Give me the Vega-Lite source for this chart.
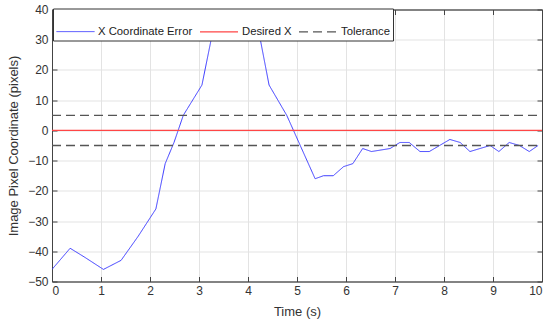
{
  "$schema": "https://vega.github.io/schema/vega-lite/v6.json",
  "autosize": "none",
  "width": 490,
  "height": 272,
  "padding": {"left": 52, "top": 9.5, "right": 5, "bottom": 40.5},
  "background": "white",
  "config": {
    "font": "Liberation Sans",
    "view": {"stroke": "#444", "strokeWidth": 1},
    "axis": {
      "labelFont": "Liberation Sans",
      "titleFont": "Liberation Sans",
      "labelFontSize": 12,
      "titleFontSize": 13,
      "titleFontWeight": "normal",
      "labelColor": "#333",
      "titleColor": "#333",
      "domainColor": "#444",
      "tickColor": "#444",
      "tickSize": -5,
      "gridColor": "#e3e3e3",
      "gridOpacity": 1
    }
  },
  "data": {
    "values": [
      {"series": "X Coordinate Error", "part": "e", "t": 0.0, "v": -46},
      {"series": "X Coordinate Error", "part": "e", "t": 0.37, "v": -39},
      {"series": "X Coordinate Error", "part": "e", "t": 0.67, "v": -42},
      {"series": "X Coordinate Error", "part": "e", "t": 1.05, "v": -46},
      {"series": "X Coordinate Error", "part": "e", "t": 1.41, "v": -43},
      {"series": "X Coordinate Error", "part": "e", "t": 1.76, "v": -35},
      {"series": "X Coordinate Error", "part": "e", "t": 2.12, "v": -26},
      {"series": "X Coordinate Error", "part": "e", "t": 2.31, "v": -11},
      {"series": "X Coordinate Error", "part": "e", "t": 2.49, "v": -4},
      {"series": "X Coordinate Error", "part": "e", "t": 2.68, "v": 5},
      {"series": "X Coordinate Error", "part": "e", "t": 3.06, "v": 15},
      {"series": "X Coordinate Error", "part": "e", "t": 3.26, "v": 31},
      {"series": "X Coordinate Error", "part": "e", "t": 3.38, "v": 35},
      {"series": "X Coordinate Error", "part": "e", "t": 3.57, "v": 39},
      {"series": "X Coordinate Error", "part": "e", "t": 3.77, "v": 40},
      {"series": "X Coordinate Error", "part": "e", "t": 3.96, "v": 39},
      {"series": "X Coordinate Error", "part": "e", "t": 4.14, "v": 35},
      {"series": "X Coordinate Error", "part": "e", "t": 4.24, "v": 31},
      {"series": "X Coordinate Error", "part": "e", "t": 4.43, "v": 15},
      {"series": "X Coordinate Error", "part": "e", "t": 4.79, "v": 5},
      {"series": "X Coordinate Error", "part": "e", "t": 5.37, "v": -16},
      {"series": "X Coordinate Error", "part": "e", "t": 5.54, "v": -15},
      {"series": "X Coordinate Error", "part": "e", "t": 5.74, "v": -15},
      {"series": "X Coordinate Error", "part": "e", "t": 5.95, "v": -12},
      {"series": "X Coordinate Error", "part": "e", "t": 6.14, "v": -11},
      {"series": "X Coordinate Error", "part": "e", "t": 6.34, "v": -6},
      {"series": "X Coordinate Error", "part": "e", "t": 6.52, "v": -7},
      {"series": "X Coordinate Error", "part": "e", "t": 6.9, "v": -6},
      {"series": "X Coordinate Error", "part": "e", "t": 7.1, "v": -4},
      {"series": "X Coordinate Error", "part": "e", "t": 7.29, "v": -4},
      {"series": "X Coordinate Error", "part": "e", "t": 7.51, "v": -7},
      {"series": "X Coordinate Error", "part": "e", "t": 7.7, "v": -7},
      {"series": "X Coordinate Error", "part": "e", "t": 8.12, "v": -3},
      {"series": "X Coordinate Error", "part": "e", "t": 8.33, "v": -4},
      {"series": "X Coordinate Error", "part": "e", "t": 8.53, "v": -7},
      {"series": "X Coordinate Error", "part": "e", "t": 8.94, "v": -5},
      {"series": "X Coordinate Error", "part": "e", "t": 9.12, "v": -7},
      {"series": "X Coordinate Error", "part": "e", "t": 9.33, "v": -4},
      {"series": "X Coordinate Error", "part": "e", "t": 9.54, "v": -5},
      {"series": "X Coordinate Error", "part": "e", "t": 9.74, "v": -7},
      {"series": "X Coordinate Error", "part": "e", "t": 9.92, "v": -5},
      {"series": "Desired X", "part": "d", "t": 0, "v": 0},
      {"series": "Desired X", "part": "d", "t": 10, "v": 0},
      {"series": "Tolerance", "part": "up", "t": 0, "v": 5},
      {"series": "Tolerance", "part": "up", "t": 10, "v": 5},
      {"series": "Tolerance", "part": "lo", "t": 0, "v": -5},
      {"series": "Tolerance", "part": "lo", "t": 10, "v": -5}
    ]
  },
  "layer": [
    {
      "mark": {"type": "line", "clip": true},
      "encoding": {
        "x": {
          "field": "t", "type": "quantitative",
          "scale": {"domain": [0, 10], "nice": false, "zero": false},
          "axis": {"title": "Time (s)", "values": [0,1,2,3,4,5,6,7,8,9,10], "grid": true, "labelPadding": 9, "titlePadding": 9}
        },
        "y": {
          "field": "v", "type": "quantitative",
          "scale": {"domain": [-50, 40], "nice": false, "zero": false},
          "axis": {"title": "Image Pixel Coordinate (pixels)", "values": [-50,-40,-30,-20,-10,0,10,20,30,40], "grid": true, "labelPadding": 9, "titlePadding": 7}
        },
        "detail": {"field": "part"},
        "color": {
          "field": "series", "type": "nominal",
          "scale": {"domain": ["X Coordinate Error", "Desired X", "Tolerance"], "range": ["#3a3aff", "#ff4646", "#555555"]},
          "legend": {
            "title": null, "orient": "none", "legendX": 1, "legendY": -1, "direction": "horizontal",
            "fillColor": "white", "strokeColor": "#333", "padding": 3, "cornerRadius": 0,
            "symbolType": "stroke", "symbolSize": 1444, "symbolStrokeWidth": 1.2,
            "labelFontSize": 11.3, "labelColor": "#222", "labelOffset": 3, "columnPadding": 4
          }
        },
        "strokeDash": {
          "field": "series", "type": "nominal",
          "scale": {"domain": ["X Coordinate Error", "Desired X", "Tolerance"], "range": [[1, 0], [1, 0], [9, 5]]},
          "legend": {
            "title": null, "orient": "none", "legendX": 1, "legendY": -1, "direction": "horizontal",
            "fillColor": "white", "strokeColor": "#333", "padding": 3, "cornerRadius": 0,
            "symbolType": "stroke", "symbolSize": 1444, "symbolStrokeWidth": 1.2,
            "labelFontSize": 11.3, "labelColor": "#222", "labelOffset": 3, "columnPadding": 4
          }
        },
        "strokeWidth": {
          "field": "series", "type": "nominal",
          "scale": {"domain": ["X Coordinate Error", "Desired X", "Tolerance"], "range": [1, 1.3, 1.5]},
          "legend": null
        }
      }
    },
    {
      "mark": {"type": "point", "opacity": 0},
      "encoding": {
        "x": {"field": "t", "type": "quantitative", "axis": {"orient": "top", "title": null, "labels": false, "grid": false, "values": [0,1,2,3,4,5,6,7,8,9,10]}},
        "y": {"field": "v", "type": "quantitative", "axis": {"orient": "right", "title": null, "labels": false, "grid": false, "values": [-50,-40,-30,-20,-10,0,10,20,30,40]}}
      }
    }
  ],
  "resolve": {"axis": {"x": "independent", "y": "independent"}}
}
